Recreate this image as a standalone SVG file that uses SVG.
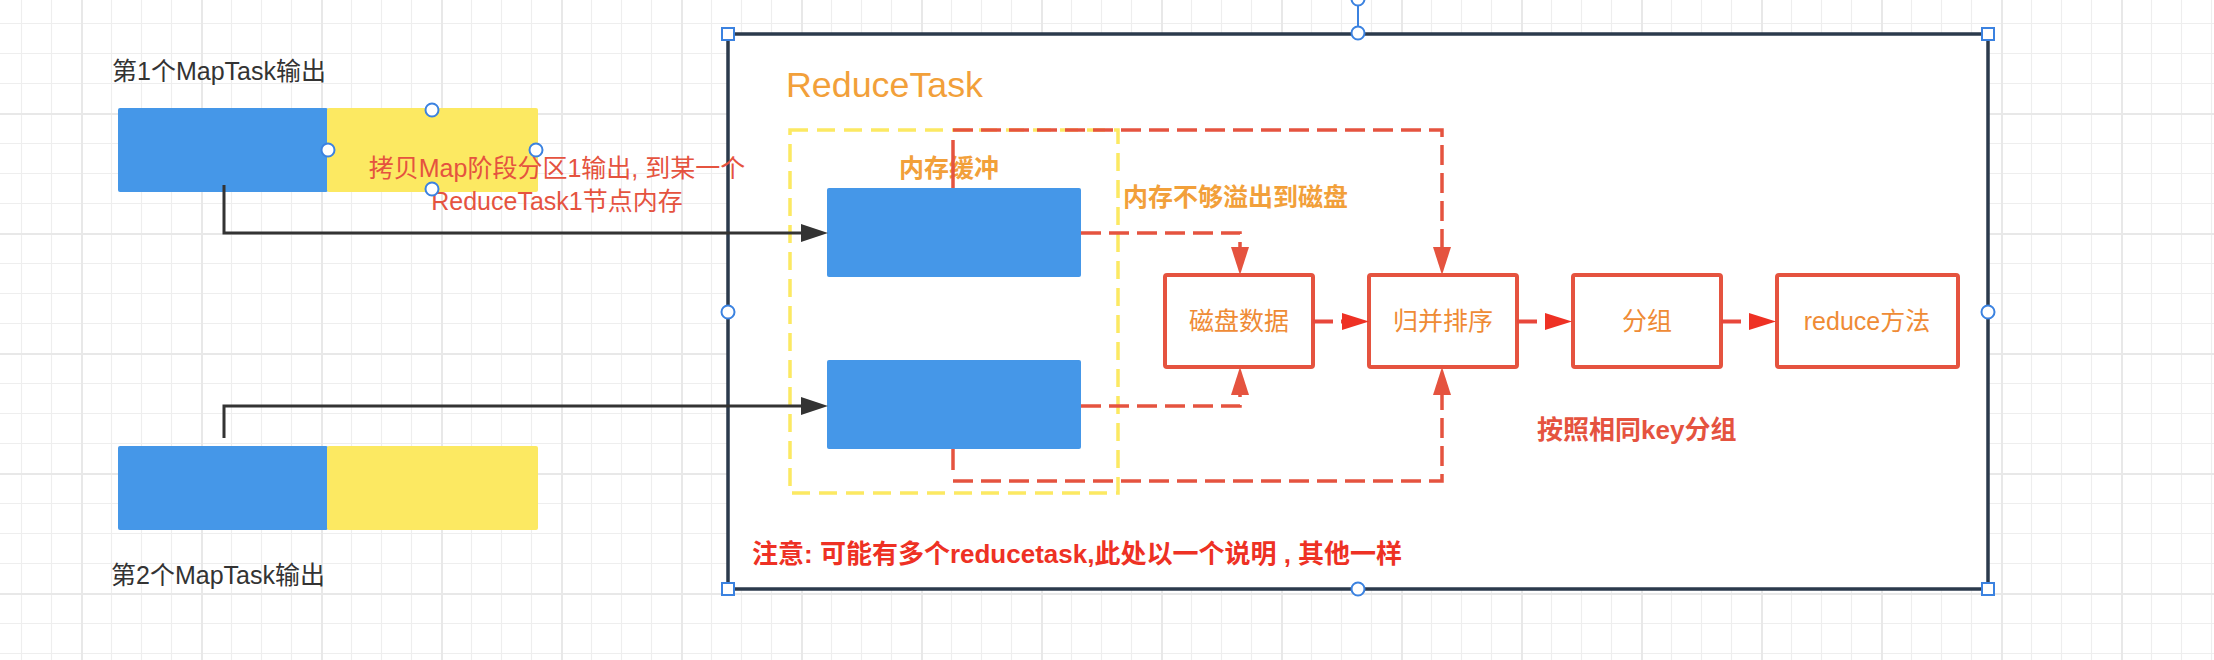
<svg xmlns="http://www.w3.org/2000/svg" width="2214" height="660" viewBox="0 0 2214 660">
<defs>
<pattern id="grid" patternUnits="userSpaceOnUse" x="81" y="113" width="120" height="120">
<path d="M30.5 0V120M60.5 0V120M90.5 0V120M0 30.5H120M0 60.5H120M0 90.5H120" stroke="#eeeeee" stroke-width="1.2" fill="none"/>
<rect x="0" y="0" width="2" height="120" fill="#e8e8e8"/>
<rect x="0" y="0" width="120" height="2" fill="#e8e8e8"/>
</pattern>
<marker id="arrRed" markerUnits="userSpaceOnUse" markerWidth="28" markerHeight="18" viewBox="0 0 28 18" refX="0" refY="9" orient="auto"><path d="M0,0 L28,9 L0,18 Z" fill="#E5533F"/></marker>
<marker id="arrBright" markerUnits="userSpaceOnUse" markerWidth="27" markerHeight="17" viewBox="0 0 27 17" refX="0" refY="8.5" orient="auto"><path d="M0,0 L27,8.5 L0,17 Z" fill="#EE3124"/></marker>
<marker id="arrBlack" markerUnits="userSpaceOnUse" markerWidth="27" markerHeight="18" viewBox="0 0 27 18" refX="0" refY="9" orient="auto"><path d="M0,0 L27,9 L0,18 Z" fill="#333333"/></marker>
<style>
text{font-family:"Liberation Sans","Noto Sans CJK SC",sans-serif;}
.gray{fill:#333333;font-size:25px;}
.orange{fill:#F2A03A;}
.boxTxt{fill:#EF8B35;font-size:25px;text-anchor:middle;}
.redTxt{fill:#E5533F;font-size:25px;}
.blue{fill:#4597E8;}
.yellow{fill:#FCE962;}
.box{fill:#ffffff;stroke:#E5533F;stroke-width:4;}
.dashRed{fill:none;stroke:#E5533F;stroke-width:3.5;stroke-dasharray:20 8;}
.solidRed{fill:none;stroke:#E5533F;stroke-width:3.5;}
.flow{fill:none;stroke:#E8473B;stroke-width:4;stroke-dasharray:20 8;}
.black{fill:none;stroke:#333333;stroke-width:3;}
.hc{fill:#ffffff;stroke:#3B82E0;stroke-width:2;}
</style>
</defs>
<rect width="2214" height="660" fill="#ffffff"/>
<rect width="2214" height="660" fill="url(#grid)"/>

<g id="reducetask-container">
<rect x="728" y="34" width="1260" height="555" fill="#ffffff" stroke="#2B3A4C" stroke-width="3.5"/>
<text x="786" y="97" class="orange" font-size="35" textLength="197" lengthAdjust="spacingAndGlyphs">ReduceTask</text>
</g>

<g id="memory-buffer">
<rect x="790" y="130" width="328" height="363" fill="none" stroke="#FCE962" stroke-width="3.5" stroke-dasharray="18 9"/>
<text x="949" y="177" class="orange" font-size="25" font-weight="bold" text-anchor="middle">内存缓冲</text>
</g>

<g id="maptask1">
<rect x="118" y="108" width="210" height="84" rx="2" class="blue"/>
<rect x="327" y="108" width="211" height="84" rx="2" class="yellow"/>
<text x="112" y="80" class="gray">第1个MapTask输出</text>
</g>

<g id="maptask2">
<rect x="118" y="446" width="210" height="84" rx="2" class="blue"/>
<rect x="327" y="446" width="211" height="84" rx="2" class="yellow"/>
<text x="111" y="584" class="gray">第2个MapTask输出</text>
</g>

<g id="buffer1"><rect x="827" y="188" width="254" height="89" rx="2" class="blue"/></g>
<g id="buffer2"><rect x="827" y="360" width="254" height="89" rx="2" class="blue"/></g>

<g id="disk-data"><rect x="1165" y="275" width="148" height="92" rx="2" class="box"/><text x="1239" y="330" class="boxTxt">磁盘数据</text></g>
<g id="merge-sort"><rect x="1369" y="275" width="148" height="92" rx="2" class="box"/><text x="1443" y="330" class="boxTxt">归并排序</text></g>
<g id="group"><rect x="1573" y="275" width="148" height="92" rx="2" class="box"/><text x="1647" y="330" class="boxTxt">分组</text></g>
<g id="reduce-method"><rect x="1777" y="275" width="181" height="92" rx="2" class="box"/><text x="1867" y="330" class="boxTxt">reduce方法</text></g>

<g id="connectors">
<path d="M224,185 V233 H801" class="black" marker-end="url(#arrBlack)"/>
<path d="M224,438 V406 H801" class="black" marker-end="url(#arrBlack)"/>
<path d="M1081,233 H1240 V247" class="dashRed" marker-end="url(#arrRed)"/>
<path d="M1081,406 H1240 V395" class="dashRed" marker-end="url(#arrRed)"/>
<path d="M953,188 V140" class="solidRed"/>
<path d="M953,130 H1442 V247" class="dashRed" marker-end="url(#arrRed)"/>
<path d="M953,449 V470" class="solidRed"/>
<path d="M953,481 H1442 V395" class="dashRed" marker-end="url(#arrRed)"/>
<path d="M1313,321.5 H1342" class="flow" marker-end="url(#arrBright)"/>
<path d="M1517,321.5 H1545" class="flow" marker-end="url(#arrBright)"/>
<path d="M1721,321.5 H1749" class="flow" marker-end="url(#arrBright)"/>
</g>

<g id="labels">
<text x="557" y="177" class="redTxt" text-anchor="middle">拷贝Map阶段分区1输出, 到某一个</text>
<text x="557" y="210" class="redTxt" text-anchor="middle">ReduceTask1节点内存</text>
<text x="1123" y="206" class="orange" font-size="25" font-weight="bold">内存不够溢出到磁盘</text>
<text x="1537" y="439" fill="#E5533F" font-size="26" font-weight="bold">按照相同key分组</text>
<text x="752" y="563" fill="#EE3124" font-size="26" font-weight="bold">注意: 可能有多个reducetask,此处以一个说明 , 其他一样</text>
</g>

<g id="selection-handles">
<line x1="1358" y1="0" x2="1358" y2="33" stroke="#3B82E0" stroke-width="2"/>
<circle cx="1358" cy="-1" r="6.5" class="hc"/>
<rect x="722" y="28" width="12" height="12" class="hc"/>
<rect x="1982" y="28" width="12" height="12" class="hc"/>
<rect x="722" y="583" width="12" height="12" class="hc"/>
<rect x="1982" y="583" width="12" height="12" class="hc"/>
<circle cx="1358" cy="33" r="6.5" class="hc"/>
<circle cx="728" cy="312" r="6.5" class="hc"/>
<circle cx="1988" cy="312" r="6.5" class="hc"/>
<circle cx="1358" cy="589" r="6.5" class="hc"/>
<circle cx="432" cy="110" r="6.5" class="hc"/>
<circle cx="328" cy="150" r="6.5" class="hc"/>
<circle cx="536" cy="150" r="6.5" class="hc"/>
<circle cx="432" cy="189" r="6.5" class="hc"/>
</g>
</svg>
